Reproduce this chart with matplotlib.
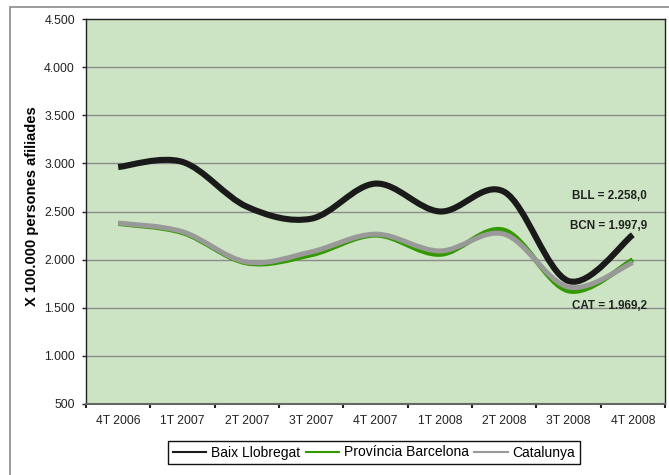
import numpy as np
import matplotlib
matplotlib.use("Agg")
import matplotlib.pyplot as plt
from matplotlib.path import Path
from matplotlib.patches import PathPatch, Rectangle
from matplotlib.lines import Line2D

plt.rcParams['font.family'] = ['Liberation Sans', 'DejaVu Sans']

quarters = ["4T 2006", "1T 2007", "2T 2007", "3T 2007", "4T 2007",
            "1T 2008", "2T 2008", "3T 2008", "4T 2008"]
bll = [2962, 3015, 2550, 2425, 2790, 2500, 2705, 1778, 2258.0]
bcn = [2375, 2280, 1965, 2050, 2255, 2055, 2305, 1675, 1997.9]
cat = [2380, 2290, 1975, 2080, 2265, 2090, 2265, 1715, 1969.2]
series_names = ["Baix Llobregat", "Província Barcelona", "Catalunya"]
end_labels = ["BLL = 2.258,0", "BCN = 1.997,9", "CAT = 1.969,2"]
label_y = [2660, 2350, 1520]
yticks = [500, 1000, 1500, 2000, 2500, 3000, 3500, 4000, 4500]


def smooth_path(xs, ys):
    # Excel-style smoothed line: cubic bezier segments through the points
    pts = list(zip(xs, ys))
    n = len(pts)
    verts = [pts[0]]
    codes = [Path.MOVETO]
    for i in range(n - 1):
        p0 = pts[i - 1] if i > 0 else pts[i]
        p1 = pts[i]
        p2 = pts[i + 1]
        p3 = pts[i + 2] if i + 2 < n else pts[i + 1]
        c1 = (p1[0] + (p2[0] - p0[0]) / 6, p1[1] + (p2[1] - p0[1]) / 6)
        c2 = (p2[0] - (p3[0] - p1[0]) / 6, p2[1] - (p3[1] - p1[1]) / 6)
        verts += [c1, c2, p2]
        codes += [Path.CURVE4] * 3
    return Path(verts, codes)


fig = plt.figure(figsize=(6.69, 4.75), dpi=100)
fig.patches.append(Rectangle((10 / 669, -0.2), 1.5, 1.2 - 7 / 475,
                             transform=fig.transFigure, fill=False,
                             ec="#8a8a8a", lw=1.2))
ax = fig.add_axes([86 / 669, 1 - 404 / 475, (665 - 86) / 669, (404 - 19) / 475])
ax.set_facecolor("#cce4c3")

x = np.arange(len(quarters)) + 0.5
colors = ["#1a1a1a", "#339900", "#999999"]
widths = [4.4, 3.6, 3.6]
for vals, c, w in [(bll, colors[0], widths[0]), (bcn, colors[1], widths[1]),
                   (cat, colors[2], widths[2])]:
    ax.add_patch(PathPatch(smooth_path(x, vals), fill=False, ec=c, lw=w,
                           capstyle="butt", joinstyle="round", zorder=3))

ax.set_xlim(0, len(quarters))
ax.set_ylim(500, 4500)
ax.set_yticks(yticks)
ax.set_yticklabels([f"{v:,}".replace(",", ".") for v in yticks], fontsize=8.8, color="#222222")
ax.set_xticks(np.arange(len(quarters) + 1))
ax.set_xticklabels([])
ax.set_xticks(x, minor=True)
ax.set_xticklabels(quarters, minor=True, fontsize=8.7, color="#222222")
ax.tick_params(axis="x", which="major", length=3, width=1.5, direction="out", color="#222222")
ax.tick_params(axis="x", which="minor", length=0, pad=8)
ax.tick_params(axis="y", length=3, width=1, direction="out", pad=5, color="#222222")
for y in yticks[1:-1]:
    ax.axhline(y, color="#8c8c8c", lw=1, zorder=1)
for s in ax.spines.values():
    s.set_color("#222222")
    s.set_linewidth(1)
ax.spines["bottom"].set_color("#666666")
ax.spines["bottom"].set_linewidth(1.5)

ax.set_ylabel("X 100.000 persones afiliades", fontsize=10.5, fontweight="bold")
ax.yaxis.set_label_coords(-0.082, 0.514)

for txt, yv in zip(end_labels, label_y):
    ax.text(8.72, yv, txt, fontsize=8.4, fontweight="bold", color="#222222",
            ha="right", va="center", zorder=4)

handles = [Line2D([], [], color=c, lw=1.5) for c in colors]
fig.legend(handles, series_names, loc="center", bbox_to_anchor=(374 / 669, 1 - 452.5 / 475),
           ncol=3, fontsize=10, frameon=True, fancybox=False, edgecolor="#111111",
           handlelength=2.4, handletextpad=0.36, columnspacing=0.4,
           borderpad=0.3, borderaxespad=0, framealpha=1)

fig.savefig("out.png", dpi=100)
